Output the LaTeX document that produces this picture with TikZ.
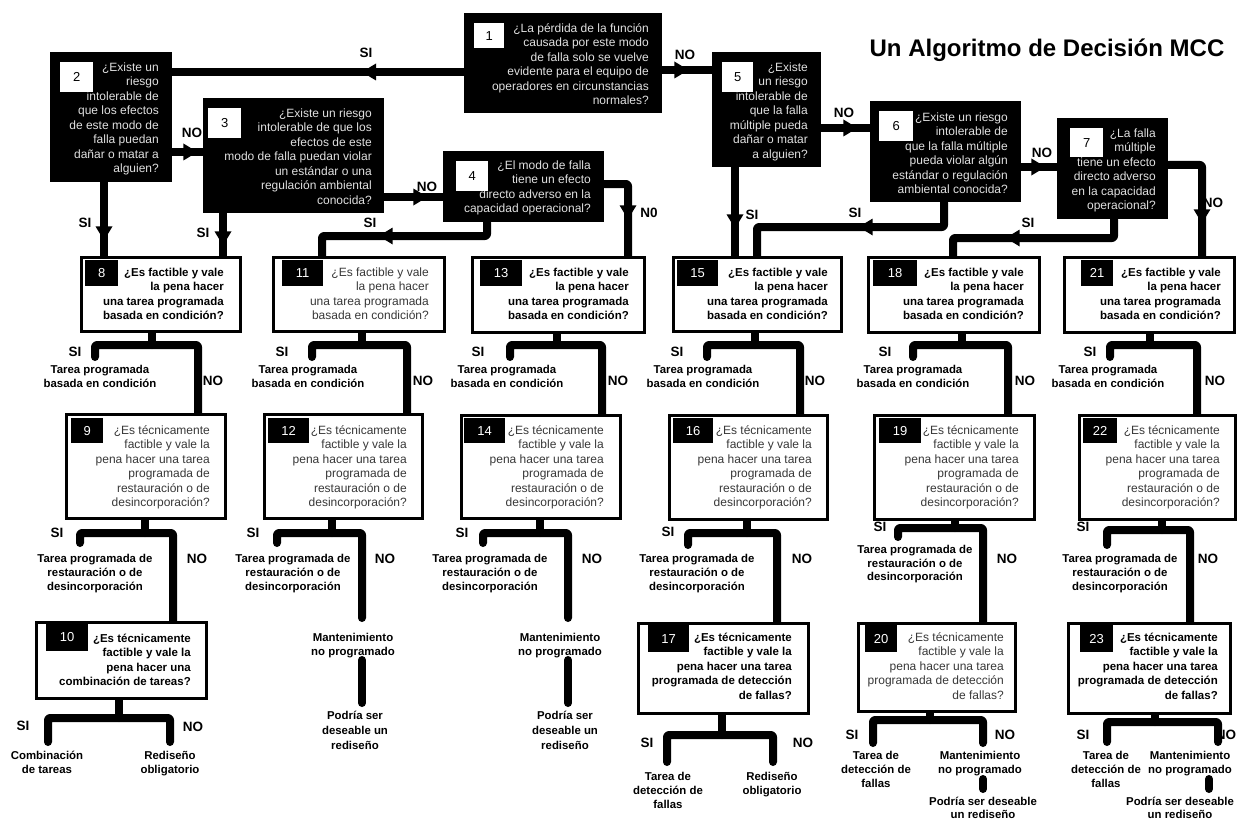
\documentclass[tikz,border=0pt]{standalone}
\usepackage{fontspec}
\setmainfont{Liberation Sans}
\usetikzlibrary{decorations.markings,backgrounds}

% question box: name, style, left, top, right, bottom
\newcommand\boxat[6]{%
  \pgfmathsetmacro\bw{#5-#3}\pgfmathsetmacro\bh{#6-#4}%
  \node[#2, anchor=north west, minimum width=\bw pt, minimum height=\bh pt] (#1) at (#3,#4) {};}
% number tag: name, style, left, top, right, bottom, number
\newcommand\numat[7]{%
  \pgfmathsetmacro\bw{#5-#3}\pgfmathsetmacro\bh{#6-#4}%
  \node[#2, anchor=north west, minimum width=\bw pt, minimum height=\bh pt] (#1) at (#3,#4) {#7};}

\newcommand\txtcond{\strut ¿Es factible y vale\\la pena hacer\\una tarea programada\\basada en condición?}
\newcommand\txtrest{\strut ¿Es técnicamente\\factible y vale la\\pena hacer una tarea\\programada de\\restauración o de\\desincorporación?}
\newcommand\txtdet{\strut ¿Es técnicamente\\factible y vale la\\pena hacer una tarea\\programada de detección\\de fallas?}
\newcommand\outcond{\strut Tarea programada\\basada en condición}
\newcommand\outrest{\strut Tarea programada de\\restauración o de\\desincorporación}

\tikzset{
  darkq/.style={fill=black, draw=none, inner sep=0pt},
  lightq/.style={fill=white, draw=black, line width=2.6pt, inner sep=0pt},
  numlight/.style={fill=white, text=black, inner sep=0pt, font=\fontsize{13}{13}\selectfont},
  numdark/.style={fill=black, text=white, inner sep=0pt, font=\fontsize{13}{13}\selectfont},
  qdark/.style={inner sep=0pt, anchor=north east, align=right, text=white!88!black, font=\fontsize{12}{14.5}\selectfont},
  qbold/.style={inner sep=0pt, anchor=north east, align=right, text=black, font=\bfseries\fontsize{11.5}{14.5}\selectfont},
  qplain/.style={inner sep=0pt, anchor=north east, align=right, text=black!78, font=\fontsize{12}{14.5}\selectfont},
  outcome/.style={inner sep=0pt, anchor=north, align=center, text=black, font=\bfseries\fontsize{11.4}{14.2}\selectfont},
  answer/.style={inner sep=0pt, text=black, font=\bfseries\fontsize{13.5}{13.5}\selectfont},
  flow/.style={draw=black, line width=8pt, line cap=round, line join=round, rounded corners=2pt},
  tipat/.style={postaction={decorate, decoration={markings,
      mark=at position #1 with {\fill[black, sharp corners] (0pt,0pt) -- (-14pt,8.5pt) -- (-14pt,-8.5pt) -- cycle;}}}},
}

\begin{document}
\begin{tikzpicture}[x=1pt, y=-1pt]
\useasboundingbox (0,0) rectangle (1237,824);

% title
\node[inner sep=0pt, font=\bfseries\fontsize{24}{24}\selectfont] (title) at (1047,50) {Un Algoritmo de Decisión MCC};

% ---------- question boxes ----------
\boxat{b1}{darkq}{464}{13}{662}{113}
\boxat{b2}{darkq}{50}{52}{172}{182}
\boxat{b3}{darkq}{203}{98}{384}{213}
\boxat{b4}{darkq}{443}{151}{604}{222}
\boxat{b5}{darkq}{712}{52}{821}{167}
\boxat{b6}{darkq}{870}{101}{1021}{202}
\boxat{b7}{darkq}{1057}{118}{1168}{219}
\boxat{b8}{lightq}{80}{256}{239}{330}
\boxat{b11}{lightq}{272}{256}{443}{330}
\boxat{b13}{lightq}{471}{256}{643}{331}
\boxat{b15}{lightq}{672}{256}{840}{330}
\boxat{b18}{lightq}{867}{256}{1038}{331}
\boxat{b21}{lightq}{1063}{256}{1233}{331}
\boxat{b9}{lightq}{65}{413}{224}{517}
\boxat{b12}{lightq}{263}{413}{421}{517}
\boxat{b14}{lightq}{460}{414}{619}{517}
\boxat{b16}{lightq}{668}{414}{826}{518}
\boxat{b19}{lightq}{873}{414}{1033}{518}
\boxat{b22}{lightq}{1078}{414}{1234}{518}
\boxat{b10}{lightq}{35}{621}{205}{697}
\boxat{b17}{lightq}{637}{622}{807}{712}
\boxat{b20}{lightq}{857}{622}{1014}{710}
\boxat{b23}{lightq}{1067}{622}{1229}{712}

% ---------- question texts ----------
\node[qdark] (t1) at (649,22) {\strut ¿La pérdida de la función\\causada por este modo\\de falla solo se vuelve\\evidente para el equipo de\\operadores en circunstancias\\normales?};
\node[qdark] (t2) at (159,61) {\strut ¿Existe un\\riesgo\\intolerable de\\que los efectos\\de este modo de\\falla puedan\\dañar o matar a\\alguien?};
\node[qdark] (t3) at (372,107) {\strut ¿Existe un riesgo\\intolerable de que los\\efectos de este\\modo de falla puedan violar\\un estándar o una\\regulación ambiental\\conocida?};
\node[qdark] (t4) at (591,159) {\strut ¿El modo de falla\\tiene un efecto\\directo adverso en la\\capacidad operacional?};
\node[qdark] (t5) at (808,61) {\strut ¿Existe\\un riesgo\\intolerable de\\que la falla\\múltiple pueda\\dañar o matar\\a alguien?};
\node[qdark] (t6) at (1008,111) {\strut ¿Existe un riesgo\\intolerable de\\que la falla múltiple\\pueda violar algún\\estándar o regulación\\ambiental conocida?};
\node[qdark] (t7) at (1156,127) {\strut ¿La falla\\múltiple\\tiene un efecto\\directo adverso\\en la capacidad\\operacional?};

\node[qbold] (t8) at (224,266) {\txtcond};
\node[qplain] (t11) at (429,266) {\txtcond};
\node[qbold] (t13) at (629,266) {\txtcond};
\node[qbold] (t15) at (828,266) {\txtcond};
\node[qbold] (t18) at (1024,266) {\txtcond};
\node[qbold] (t21) at (1221,266) {\txtcond};

\node[qplain] (t9) at (210,424) {\txtrest};
\node[qplain] (t12) at (407,424) {\txtrest};
\node[qplain] (t14) at (604,424) {\txtrest};
\node[qplain] (t16) at (812,424) {\txtrest};
\node[qplain] (t19) at (1019,424) {\txtrest};
\node[qplain] (t22) at (1220,424) {\txtrest};

\node[qbold] (t10) at (191,632) {\strut ¿Es técnicamente\\factible y vale la\\pena hacer una\\combinación de tareas?};
\node[qbold] (t17) at (792,631) {\txtdet};
\node[qplain] (t20) at (1004,631) {\txtdet};
\node[qbold] (t23) at (1218,631) {\txtdet};

% ---------- number tags ----------
\numat{n1}{numlight}{474}{23}{504}{48}{1}
\numat{n2}{numlight}{60}{62}{93}{92}{2}
\numat{n3}{numlight}{208}{108}{241}{138}{3}
\numat{n4}{numlight}{456}{161}{488}{191}{4}
\numat{n5}{numlight}{722}{62}{753}{92}{5}
\numat{n6}{numlight}{879}{111}{913}{141}{6}
\numat{n7}{numlight}{1070}{128}{1103}{157}{7}
\numat{n8}{numdark}{85}{260}{118}{286}{8}
\numat{n11}{numdark}{282}{260}{323}{286}{11}
\numat{n13}{numdark}{480}{260}{522}{286}{13}
\numat{n15}{numdark}{677}{260}{718}{286}{15}
\numat{n18}{numdark}{873}{260}{917}{286}{18}
\numat{n21}{numdark}{1081}{260}{1113}{286}{21}
\numat{n9}{numdark}{71}{418}{103}{443}{9}
\numat{n12}{numdark}{268}{418}{309}{443}{12}
\numat{n14}{numdark}{464}{418}{505}{443}{14}
\numat{n16}{numdark}{673}{418}{713}{443}{16}
\numat{n19}{numdark}{879}{418}{921}{443}{19}
\numat{n22}{numdark}{1083}{418}{1117}{443}{22}
\numat{n10}{numdark}{46}{623}{88}{651}{10}
\numat{n17}{numdark}{648}{625}{689}{652}{17}
\numat{n20}{numdark}{865}{625}{897}{652}{20}
\numat{n23}{numdark}{1080}{625}{1113}{652}{23}

% ---------- outcome texts ----------
\node[outcome] (o8) at (100,363) {\outcond};
\node[outcome] (o11) at (308,363) {\outcond};
\node[outcome] (o13) at (507,363) {\outcond};
\node[outcome] (o15) at (703,363) {\outcond};
\node[outcome] (o18) at (913,363) {\outcond};
\node[outcome] (o21) at (1108,363) {\outcond};

\node[outcome] (o9) at (95,552) {\outrest};
\node[outcome] (o12) at (293,552) {\outrest};
\node[outcome] (o14) at (490,552) {\outrest};
\node[outcome] (o16) at (697,552) {\outrest};
\node[outcome, font=\bfseries\fontsize{11.4}{13.5}\selectfont] (o19) at (915,544) {\outrest};
\node[outcome] (o22) at (1120,552) {\outrest};

\node[outcome] (m12) at (353,631) {\strut Mantenimiento\\no programado};
\node[outcome, font=\bfseries\fontsize{11.4}{15}\selectfont] (r12) at (355,709) {\strut Podría ser\\deseable un\\rediseño};
\node[outcome] (m14) at (560,631) {\strut Mantenimiento\\no programado};
\node[outcome, font=\bfseries\fontsize{11.4}{15}\selectfont] (r14) at (565,709) {\strut Podría ser\\deseable un\\rediseño};

\node[outcome] (c10) at (47,749) {\strut Combinación\\de tareas};
\node[outcome] (d10) at (170,749) {\strut Rediseño\\obligatorio};
\node[outcome] (f17) at (668,770) {\strut Tarea de\\detección de\\fallas};
\node[outcome] (d17) at (772,770) {\strut Rediseño\\obligatorio};
\node[outcome] (f20) at (876,749) {\strut Tarea de\\detección de\\fallas};
\node[outcome] (m20) at (980,749) {\strut Mantenimiento\\no programado};
\node[outcome, font=\bfseries\fontsize{11.4}{13}\selectfont] (r20) at (983,797) {Podría ser deseable\\un rediseño};
\node[outcome] (f23) at (1106,749) {\strut Tarea de\\detección de\\fallas};
\node[outcome] (m23) at (1190,749) {\strut Mantenimiento\\no programado};
\node[outcome, font=\bfseries\fontsize{11.4}{13}\selectfont] (r23) at (1180,797) {Podría ser deseable\\un rediseño};

% ---------- answer labels ----------
\node[answer] (a1s) at (366,53) {SI};
\node[answer] (a1n) at (685,55) {NO};
\node[answer] (a2n) at (192,133) {NO};
\node[answer] (a2s) at (85,223) {SI};
\node[answer] (a3s) at (203,233) {SI};
\node[answer] (a3n) at (427,187) {NO};
\node[answer] (a4s) at (370,223) {SI};
\node[answer] (a4n) at (649,213) {N0};
\node[answer] (a5n) at (844,113) {NO};
\node[answer] (a5s) at (752,215) {SI};
\node[answer] (a6s) at (855,213) {SI};
\node[answer] (a6n) at (1042,153) {NO};
\node[answer] (a7s) at (1028,223) {SI};
\node[answer] (a7n) at (1213,203) {NO};

\node[answer] (a8s) at (75,352) {SI};
\node[answer] (a8n) at (213,381) {NO};
\node[answer] (a11s) at (282,352) {SI};
\node[answer] (a11n) at (423,381) {NO};
\node[answer] (a13s) at (478,352) {SI};
\node[answer] (a13n) at (618,381) {NO};
\node[answer] (a15s) at (677,352) {SI};
\node[answer] (a15n) at (815,381) {NO};
\node[answer] (a18s) at (885,352) {SI};
\node[answer] (a18n) at (1025,381) {NO};
\node[answer] (a21s) at (1090,352) {SI};
\node[answer] (a21n) at (1215,381) {NO};

\node[answer] (a9s) at (57,533) {SI};
\node[answer] (a9n) at (197,559) {NO};
\node[answer] (a12s) at (253,533) {SI};
\node[answer] (a12n) at (385,559) {NO};
\node[answer] (a14s) at (462,533) {SI};
\node[answer] (a14n) at (592,559) {NO};
\node[answer] (a16s) at (668,532) {SI};
\node[answer] (a16n) at (802,559) {NO};
\node[answer] (a19s) at (880,527) {SI};
\node[answer] (a19n) at (1007,559) {NO};
\node[answer] (a22s) at (1083,527) {SI};
\node[answer] (a22n) at (1208,559) {NO};

\node[answer] (a10s) at (23,726) {SI};
\node[answer] (a10n) at (193,727) {NO};
\node[answer] (a17s) at (647,743) {SI};
\node[answer] (a17n) at (803,743) {NO};
\node[answer] (a20s) at (852,735) {SI};
\node[answer] (a20n) at (1005,735) {NO};
\node[answer] (a23s) at (1083,735) {SI};
\node[answer] (a23n) at (1226,735) {NO};

% ---------- connectors ----------
\begin{scope}[on background layer]
  \fill[white] (0,0) rectangle (1237,824);

  % upper decision chain
  \draw[flow, tipat=102pt] (b1.west |- 0,72) -- (b2.east |- 0,72);
  \draw[flow, tipat=26pt] (b1.east |- 0,70) -- (b5.west |- 0,70);
  \draw[flow, tipat=25pt] (b2.east |- 0,152) -- (b3.west |- 0,152);
  \draw[flow, tipat=58pt] (b2.south -| 104,0) -- (b8.north -| 104,0);
  \draw[flow, tipat=32pt] (b3.south -| 223,0) -- (b8.north -| 223,0);
  \draw[flow, tipat=43pt] (b3.east |- 0,197) -- (b4.west |- 0,197);
  \draw[flow, tipat=121pt] (b4.south -| 487,0) -- (487,236) -- (322,236) -- (b11.north -| 322,0);
  \draw[flow, tipat=58pt] (b4.east |- 0,184) -- (628,184) -- (b13.north -| 628,0);
  \draw[flow, tipat=36pt] (b5.east |- 0,128) -- (b6.west |- 0,128);
  \draw[flow, tipat=61pt] (b5.south -| 735,0) -- (b15.north -| 735,0);
  \draw[flow, tipat=109pt] (b6.south -| 944,0) -- (944,227) -- (757,227) -- (b15.north -| 757,0);
  \draw[flow, tipat=24pt] (b6.east |- 0,167) -- (b7.west |- 0,167);
  \draw[flow, tipat=126pt] (b7.south -| 1114,0) -- (1114,238) -- (953,238) -- (b18.north -| 953,0);
  \draw[flow, tipat=91pt] (b7.east |- 0,165) -- (1202,165) -- (b21.north -| 1202,0);

  % column 8-9-10
  \draw[flow] (b8.south -| 152,0) -- (152,345);
  \draw[flow] (95,357) -- (95,345) -- (198,345) -- (b9.north -| 198,0);
  \draw[flow] (b9.south -| 145,0) -- (145,533);
  \draw[flow] (80,543) -- (80,533) -- (173,533) -- (b10.north -| 173,0);
  \draw[flow] (b10.south -| 119,0) -- (119,718);
  \draw[flow] (48,742) -- (48,718) -- (170,718) -- (170,742);

  % column 11-12
  \draw[flow] (b11.south -| 362,0) -- (362,345);
  \draw[flow] (312,357) -- (312,345) -- (407,345) -- (b12.north -| 407,0);
  \draw[flow] (b12.south -| 332,0) -- (332,533);
  \draw[flow] (277,543) -- (277,533) -- (362,533) -- (362,618);
  \draw[flow] (362,660) -- (362,703);

  % column 13-14
  \draw[flow] (b13.south -| 557,0) -- (557,345);
  \draw[flow] (510,357) -- (510,345) -- (602,345) -- (b14.north -| 602,0);
  \draw[flow] (b14.south -| 540,0) -- (540,533);
  \draw[flow] (483,543) -- (483,533) -- (568,533) -- (568,618);
  \draw[flow] (568,660) -- (568,703);

  % column 15-16-17
  \draw[flow] (b15.south -| 755,0) -- (755,345);
  \draw[flow] (707,357) -- (707,345) -- (800,345) -- (b16.north -| 800,0);
  \draw[flow] (b16.south -| 747,0) -- (747,533);
  \draw[flow] (688,545) -- (688,533) -- (777,533) -- (b17.north -| 777,0);
  \draw[flow] (b17.south -| 722,0) -- (722,735);
  \draw[flow] (667,762) -- (667,735) -- (773,735) -- (773,762);

  % column 18-19-20
  \draw[flow] (b18.south -| 962,0) -- (962,345);
  \draw[flow] (913,357) -- (913,345) -- (1008,345) -- (b19.north -| 1008,0);
  \draw[flow] (b19.south -| 955,0) -- (955,528);
  \draw[flow] (898,537) -- (898,528) -- (983,528) -- (b20.north -| 983,0);
  \draw[flow] (b20.south -| 930,0) -- (930,720);
  \draw[flow] (873,743) -- (873,720) -- (983,720) -- (983,743);
  \draw[flow] (983,779) -- (983,789);

  % column 21-22-23
  \draw[flow] (b21.south -| 1150,0) -- (1150,345);
  \draw[flow] (1110,357) -- (1110,345) -- (1197,345) -- (b22.north -| 1197,0);
  \draw[flow] (b22.south -| 1162,0) -- (1162,530);
  \draw[flow] (1107,545) -- (1107,530) -- (1190,530) -- (b23.north -| 1190,0);
  \draw[flow] (b23.south -| 1155,0) -- (1155,722);
  \draw[flow] (1107,742) -- (1107,722) -- (1218,722) -- (1218,742);
  \draw[flow] (1209,779) -- (1209,789);
\end{scope}
\end{tikzpicture}
\end{document}
